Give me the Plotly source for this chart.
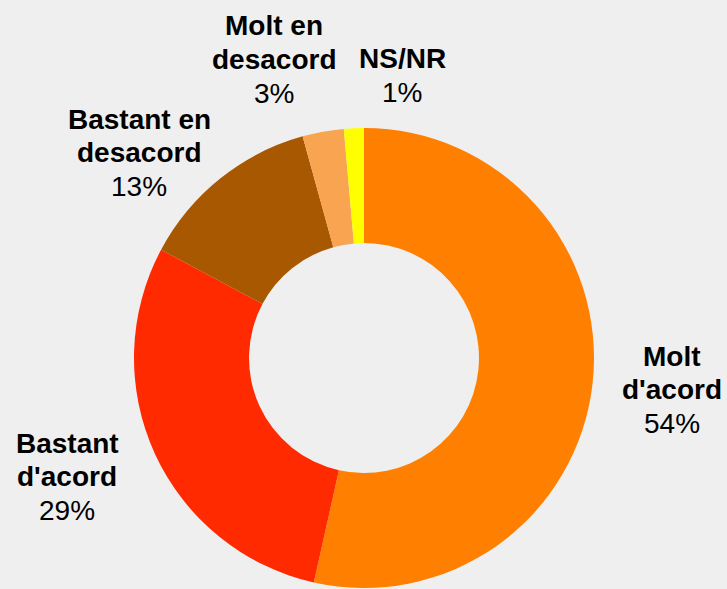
import plotly.graph_objects as go

W, H = 727, 589

categories = ["Molt d'acord", "Bastant d'acord", "Bastant en desacord", "Molt en desacord", "NS/NR"]
values = [53.5, 29.3, 12.9, 2.9, 1.4]
colors = ["#FF7F00", "#FF2A00", "#A85800", "#F9A450", "#FFFF00"]

# label text lines (bold name lines) per category
name_lines = [["Molt", "d'acord"], ["Bastant", "d'acord"], ["Bastant en", "desacord"],
              ["Molt en", "desacord"], ["NS/NR"]]
# label placement in pixels: center x, first baseline y
label_pos = [(672, 365), (67, 452), (139, 128), (274, 35), (402, 68)]

fig = go.Figure()
fig.add_trace(go.Pie(
    labels=categories, values=values, sort=False, direction="clockwise", rotation=0,
    hole=0.5, marker=dict(colors=colors, line=dict(width=0)),
    textinfo="none", hoverinfo="label+percent", showlegend=False,
    domain=dict(x=[134 / W, 594 / W], y=[1 - 588 / H, 1 - 128 / H]),
))

FS = 28
LS = 33.5
total = sum(values)
for lines, (cx, by), v in zip(name_lines, label_pos, values):
    pct = f"{round(v / total * 100)}%"
    all_lines = [(l, True) for l in lines] + [(pct, False)]
    for i, (txt, bold) in enumerate(all_lines):
        base = by + i * LS
        ymid = base - 9
        fig.add_annotation(
            x=cx / W, y=1 - ymid / H, xref="paper", yref="paper",
            text=f"<b>{txt}</b>" if bold else txt, showarrow=False,
            xanchor="center", yanchor="middle",
            font=dict(family="Liberation Sans, Arial, Helvetica, sans-serif", size=FS, color="#000000"),
        )

fig.update_layout(
    width=W, height=H, margin=dict(l=0, r=0, t=0, b=0),
    paper_bgcolor="#efefef", plot_bgcolor="#efefef",
)

fig.write_html("out.html", config={"displayModeBar": False},
               post_script="document.body.style.margin='0';document.body.style.background='#efefef';")
